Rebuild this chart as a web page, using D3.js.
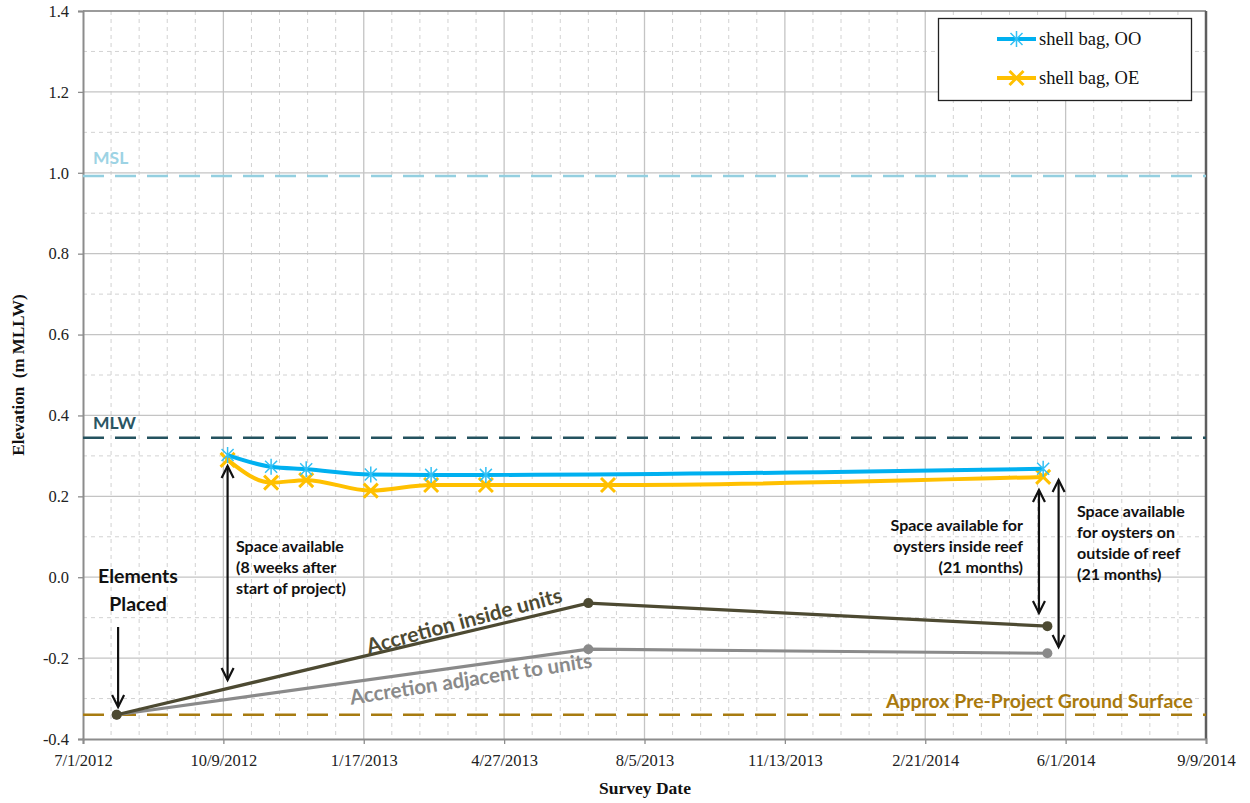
<!DOCTYPE html>
<html>
<head>
<meta charset="utf-8">
<script src="https://cdn.jsdelivr.net/npm/d3@7"></script>
<style>
  html, body { margin: 0; padding: 0; background: #fff; }
  svg { display: block; }
</style>
</head>
<body>
<svg id="chart" width="1250" height="803"></svg>
<script>
// Elevation of shell bag surfaces and sediment accretion, m MLLW
const datesOO = ["2012-10-12", "2012-11-12", "2012-12-07", "2013-01-22", "2013-03-06", "2013-04-14", "2014-05-16"];
const elevOO  = [0.302, 0.273, 0.267, 0.254, 0.253, 0.253, 0.268];

const datesOE = ["2012-10-12", "2012-11-12", "2012-12-07", "2013-01-22", "2013-03-06", "2013-04-14", "2013-07-10", "2014-05-16"];
const elevOE  = [0.290, 0.234, 0.240, 0.214, 0.228, 0.228, 0.228, 0.248];

const datesAccretion   = ["2012-07-25", "2013-06-26", "2014-05-19"];
const accretionInside  = [-0.340, -0.064, -0.121];
const accretionAdjacent = [-0.340, -0.178, -0.188];

// Reference tidal datums and the original ground
const levelMSL = 0.992;
const levelMLW = 0.345;
const levelPreProject = -0.340;

const xTickLabels = ["7/1/2012", "10/9/2012", "1/17/2013", "4/27/2013", "8/5/2013", "11/13/2013", "2/21/2014", "6/1/2014", "9/9/2014"];
const yTickValues = [-0.4, -0.2, 0.0, 0.2, 0.4, 0.6, 0.8, 1.0, 1.2, 1.4];

const parseISO = d3.utcParse("%Y-%m-%d");
const parseUS = d3.utcParse("%m/%d/%Y");
const DAY = 86400000;

const svg = d3.select("#chart");
const plot = { left: 83, right: 1206, top: 11, bottom: 739 };

const xTicks = xTickLabels.map(parseUS);
const x = d3.scaleUtc().domain([xTicks[0], xTicks[xTicks.length - 1]]).range([plot.left, plot.right]);
const y = d3.scaleLinear().domain([-0.4, 1.4]).range([plot.bottom, plot.top]);

const fmtDate = d => `${d.getUTCMonth() + 1}/${d.getUTCDate()}/${d.getUTCFullYear()}`;
const fmtY = v => (Math.abs(v) < 1e-9 ? 0 : v).toFixed(1);

const sans = "Lato, 'Open Sans', sans-serif";
const serif = "'Liberation Serif', 'DejaVu Serif', serif";

// ---- grid ----
const grid = svg.append("g");
// minor verticals every 20 days
const minorX = [];
for (let t = +xTicks[0]; t <= +xTicks[xTicks.length - 1]; t += 20 * DAY) {
  if (Math.round((t - xTicks[0]) / DAY) % 100 !== 0) minorX.push(new Date(t));
}
grid.selectAll(".mx").data(minorX).join("line")
  .attr("x1", d => x(d)).attr("x2", d => x(d))
  .attr("y1", plot.top).attr("y2", plot.bottom)
  .attr("stroke", "#d2d2d2").attr("stroke-width", 1).attr("stroke-dasharray", "4,4");
const minorY = d3.range(-0.3, 1.4, 0.2);
grid.selectAll(".my").data(minorY).join("line")
  .attr("x1", plot.left).attr("x2", plot.right)
  .attr("y1", d => y(d)).attr("y2", d => y(d))
  .attr("stroke", "#d2d2d2").attr("stroke-width", 1).attr("stroke-dasharray", "4,4");
grid.selectAll(".Mx").data(xTicks.slice(1, -1)).join("line")
  .attr("x1", d => x(d)).attr("x2", d => x(d))
  .attr("y1", plot.top).attr("y2", plot.bottom)
  .attr("stroke", "#c4c4c4").attr("stroke-width", 1.3);
grid.selectAll(".My").data(yTickValues.slice(1, -1)).join("line")
  .attr("x1", plot.left).attr("x2", plot.right)
  .attr("y1", d => y(d)).attr("y2", d => y(d))
  .attr("stroke", "#c4c4c4").attr("stroke-width", 1.3);

// ---- frame ----
svg.append("line").attr("x1", plot.left).attr("x2", plot.right).attr("y1", plot.top).attr("y2", plot.top)
  .attr("stroke", "#7a7a7a").attr("stroke-width", 1.5);
svg.append("line").attr("x1", plot.right).attr("x2", plot.right).attr("y1", plot.top).attr("y2", plot.bottom)
  .attr("stroke", "#5e5e5e").attr("stroke-width", 2.5);

// ---- axes ----
const xAxis = svg.append("g").attr("transform", `translate(0,${plot.bottom})`)
  .call(d3.axisBottom(x).tickValues(xTicks).tickFormat(fmtDate).tickSize(5).tickPadding(10));
const yAxis = svg.append("g").attr("transform", `translate(${plot.left},0)`)
  .call(d3.axisLeft(y).tickValues(yTickValues).tickFormat(fmtY).tickSize(5).tickPadding(9));
[xAxis, yAxis].forEach(a => {
  a.select(".domain").attr("stroke", "#8c8c8c").attr("stroke-width", 2);
  a.selectAll(".tick line").attr("stroke", "#8c8c8c").attr("stroke-width", 1.3);
  a.selectAll(".tick text").attr("font-family", serif).attr("font-size", 16.5).attr("fill", "#222");
});

svg.append("text").attr("x", 645).attr("y", 794).attr("text-anchor", "middle")
  .attr("font-family", serif).attr("font-weight", "bold").attr("font-size", 17.5).attr("fill", "#111")
  .text("Survey Date");
svg.append("text").attr("transform", "translate(24,375) rotate(-90)").attr("text-anchor", "middle")
  .attr("font-family", serif).attr("font-weight", "bold").attr("font-size", 17).attr("fill", "#111")
  .attr("xml:space", "preserve")
  .text("Elevation  (m MLLW)");

// ---- reference levels ----
function refLine(v, color) {
  svg.append("line").attr("x1", plot.left).attr("x2", plot.right)
    .attr("y1", y(v)).attr("y2", y(v))
    .attr("stroke", color).attr("stroke-width", 2.6).attr("stroke-dasharray", "21,11");
}
refLine(levelMSL, "#93cfe0");
refLine(levelMLW, "#24525f");
refLine(levelPreProject, "#a77b10");

svg.append("text").attr("x", 93).attr("y", y(levelMSL) - 12)
  .attr("font-family", sans).attr("font-weight", "bold").attr("font-size", 17.5).attr("fill", "#9dd3e4").text("MSL");
svg.append("text").attr("x", 93).attr("y", y(levelMLW) - 9)
  .attr("font-family", sans).attr("font-weight", "bold").attr("font-size", 17.5).attr("fill", "#2a5563").text("MLW");
svg.append("text").attr("x", 1193).attr("y", y(levelPreProject) - 7).attr("text-anchor", "end")
  .attr("font-family", sans).attr("font-weight", "bold").attr("font-size", 19.5).attr("fill", "#a8790e")
  .text("Approx Pre-Project Ground Surface");

// ---- accretion lines ----
const accPts = (vals) => datesAccretion.map((d, i) => [x(parseISO(d)), y(vals[i])]);
const line = d3.line();
[[accretionAdjacent, "#8a8a8a"], [accretionInside, "#4d4a32"]].forEach(([vals, color]) => {
  const pts = accPts(vals);
  svg.append("path").attr("d", line(pts)).attr("fill", "none").attr("stroke", color).attr("stroke-width", 3.2);
  svg.selectAll(null).data(pts).join("circle")
    .attr("cx", d => d[0]).attr("cy", d => d[1]).attr("r", 5).attr("fill", color);
});

svg.append("text").attr("transform", "translate(466,628) rotate(-15)").attr("text-anchor", "middle")
  .attr("font-family", sans).attr("font-weight", "bold").attr("font-size", 21).attr("fill", "#4d4a32")
  .text("Accretion inside units");
svg.append("text").attr("transform", "translate(472,686) rotate(-8.8)").attr("text-anchor", "middle")
  .attr("font-family", sans).attr("font-weight", "bold").attr("font-size", 20.5).attr("fill", "#8a8a8a")
  .text("Accretion adjacent to units");

// ---- shell bag series ----
const starPath = s => `M0,${-s}L0,${s}M${-s * 0.75},${-s * 0.75}L${s * 0.75},${s * 0.75}M${-s * 0.75},${s * 0.75}L${s * 0.75},${-s * 0.75}`;
const crossPath = s => `M${-s},${-s}L${s},${s}M${-s},${s}L${s},${-s}`;

const ooPts = datesOO.map((d, i) => [x(parseISO(d)), y(elevOO[i])]);
const oePts = datesOE.map((d, i) => [x(parseISO(d)), y(elevOE[i])]);
const smooth = d3.line().curve(d3.curveMonotoneX);

svg.append("path").attr("d", smooth(oePts)).attr("fill", "none").attr("stroke", "#ffc000").attr("stroke-width", 4);
svg.selectAll(null).data(oePts).join("path")
  .attr("transform", d => `translate(${d[0]},${d[1]})`).attr("d", crossPath(7))
  .attr("stroke", "#ffc000").attr("stroke-width", 3).attr("fill", "none");

svg.append("path").attr("d", smooth(ooPts)).attr("fill", "none").attr("stroke", "#00b0f0").attr("stroke-width", 4);
svg.selectAll(null).data(ooPts).join("path")
  .attr("transform", d => `translate(${d[0]},${d[1]})`).attr("d", starPath(8))
  .attr("stroke", "#33c0f4").attr("stroke-width", 1.5).attr("fill", "none");

// ---- annotation arrows ----
function arrow(xp, y1, y2, both) {
  const g = svg.append("g").attr("stroke", "#111").attr("stroke-width", 2.2).attr("fill", "none");
  g.append("line").attr("x1", xp).attr("x2", xp).attr("y1", y1).attr("y2", y2);
  const head = (ty, dir) => g.append("path")
    .attr("d", `M${xp - 6},${ty - dir * 12}L${xp},${ty}L${xp + 6},${ty - dir * 12}`)
    .attr("stroke-linejoin", "miter");
  head(y2, 1);
  if (both) head(y1, -1);
}
arrow(x(parseISO("2012-07-26")), 627, 707, false);
arrow(x(parseISO("2012-10-12")), 466, 680, true);
arrow(x(parseISO("2014-05-13")), 490, 613, true);
arrow(x(parseISO("2014-05-27")), 480, 647, true);

function block(lines, xp, y0, dy, anchor, size, weight) {
  const t = svg.append("text").attr("font-family", sans).attr("font-weight", weight)
    .attr("font-size", size).attr("fill", "#111").attr("text-anchor", anchor);
  lines.forEach((s, i) => t.append("tspan").attr("x", xp).attr("y", y0 + i * dy).text(s));
}
block(["Elements", "Placed"], 138, 583, 28, "middle", 19.5, "bold");
block(["Space available", "(8 weeks after", "start of project)"], 236, 552, 21, "start", 16, "bold");
block(["Space available for", "oysters inside reef", "(21 months)"], 1023, 531, 21, "end", 16, "bold");
block(["Space available", "for oysters on", "outside of reef", "(21 months)"], 1077, 517, 21, "start", 16, "bold");

// ---- legend ----
const legend = svg.append("g");
legend.append("rect").attr("x", 938.5).attr("y", 18.5).attr("width", 253).attr("height", 82)
  .attr("fill", "#fff").attr("stroke", "#222").attr("stroke-width", 1.3);
const legendItems = [
  { label: "shell bag, OO", color: "#00b0f0", mark: starPath(8), mw: 1.5, mc: "#33c0f4" },
  { label: "shell bag, OE", color: "#ffc000", mark: crossPath(7), mw: 3, mc: "#ffc000" }
];
legendItems.forEach((it, i) => {
  const ly = 39 + i * 39;
  legend.append("line").attr("x1", 997).attr("x2", 1036).attr("y1", ly).attr("y2", ly)
    .attr("stroke", it.color).attr("stroke-width", 4);
  legend.append("path").attr("transform", `translate(1016.5,${ly})`).attr("d", it.mark)
    .attr("stroke", it.mc).attr("stroke-width", it.mw).attr("fill", "none");
  legend.append("text").attr("x", 1039).attr("y", ly + 6)
    .attr("font-family", serif).attr("font-size", 18.5).attr("fill", "#111").text(it.label);
});
</script>
</body>
</html>
